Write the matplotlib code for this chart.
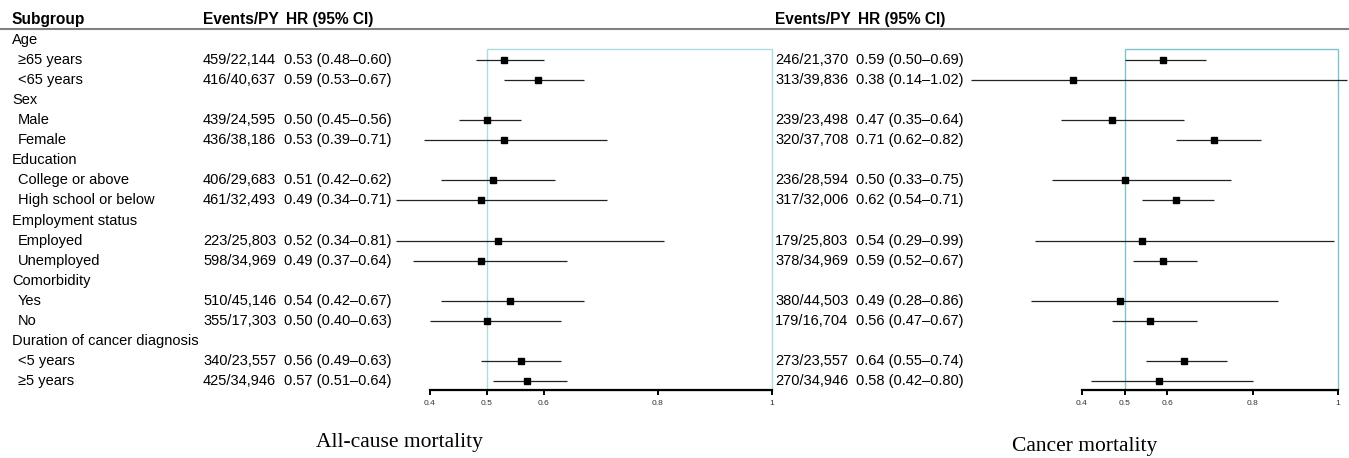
import matplotlib
matplotlib.use("Agg")
import matplotlib.pyplot as plt
import matplotlib.transforms as mtransforms
from matplotlib.patches import Rectangle

plt.rcParams['font.family'] = ['Liberation Sans', 'DejaVu Sans']

# ---------------- data ----------------
categories = ["Age", "Sex", "Education", "Employment status", "Comorbidity",
              "Duration of cancer diagnosis"]
levels = [["≥65 years", "<65 years"], ["Male", "Female"],
          ["College or above", "High school or below"],
          ["Employed", "Unemployed"], ["Yes", "No"], ["<5 years", "≥5 years"]]

allcause_events = ["459/22,144", "416/40,637", "439/24,595", "436/38,186",
                   "406/29,683", "461/32,493", "223/25,803", "598/34,969",
                   "510/45,146", "355/17,303", "340/23,557", "425/34,946"]
allcause_hr = [0.53, 0.59, 0.50, 0.53, 0.51, 0.49, 0.52, 0.49, 0.54, 0.50, 0.56, 0.57]
allcause_lo = [0.48, 0.53, 0.45, 0.39, 0.42, 0.34, 0.34, 0.37, 0.42, 0.40, 0.49, 0.51]
allcause_hi = [0.60, 0.67, 0.56, 0.71, 0.62, 0.71, 0.81, 0.64, 0.67, 0.63, 0.63, 0.64]

cancer_events = ["246/21,370", "313/39,836", "239/23,498", "320/37,708",
                 "236/28,594", "317/32,006", "179/25,803", "378/34,969",
                 "380/44,503", "179/16,704", "273/23,557", "270/34,946"]
cancer_hr = [0.59, 0.38, 0.47, 0.71, 0.50, 0.62, 0.54, 0.59, 0.49, 0.56, 0.64, 0.58]
cancer_lo = [0.50, 0.14, 0.35, 0.62, 0.33, 0.54, 0.29, 0.52, 0.28, 0.47, 0.55, 0.42]
cancer_hi = [0.69, 1.02, 0.64, 0.82, 0.75, 0.71, 0.99, 0.67, 0.86, 0.67, 0.74, 0.80]

x_ticks = [0.4, 0.5, 0.6, 0.8, 1.0]
x_ticklabels = ["0.4", "0.5", "0.6", "0.8", "1"]
panel_titles = ["All-cause mortality", "Cancer mortality"]

# ---------------- layout ----------------
W, H = 1349, 458
fig = plt.figure(figsize=(W / 100, H / 100), dpi=100)

ROW0, STEP = 40.0, 20.06          # pixel y of first row, row spacing
def prow(px):                      # pixel y -> row coordinate
    return (px - ROW0) / STEP

# build row index lists
cat_rows, lvl_rows, lvl_labels = [], [], []
r = 0
for c, lv in zip(categories, levels):
    cat_rows.append(r)
    r += 1
    for l in lv:
        lvl_rows.append(r)
        lvl_labels.append(l)
        r += 1

# text axes spanning the whole figure (x in pixels, y in row units)
axt = fig.add_axes([0, 0, 1, 1], zorder=0)
axt.set_xlim(0, W)
axt.set_ylim(prow(H), prow(0))
axt.axis("off")

FS = 10.5
HFS = 11.2
axt.text(11, -1, "Subgroup", fontsize=HFS, fontweight="bold", va="center")
for xe, xh in [(203, 286), (775, 858)]:
    axt.text(xe, -1, "Events/PY", fontsize=HFS, fontweight="bold", va="center")
    axt.text(xh, -1, "HR (95% CI)", fontsize=HFS, fontweight="bold", va="center")
axt.plot([0, W], [prow(29), prow(29)], color="#808080", lw=1.5)

for c, rr in zip(categories, cat_rows):
    axt.text(12, rr, c, fontsize=FS, va="center")
for l, rr in zip(lvl_labels, lvl_rows):
    axt.text(18, rr, l, fontsize=FS, va="center")

def fmt(h, lo, hi):
    return f"{h:.2f} ({lo:.2f}\u2013{hi:.2f})"

for ev, hr, lo, hi, xe, xh in [
        (allcause_events, allcause_hr, allcause_lo, allcause_hi, 203, 284),
        (cancer_events, cancer_hr, cancer_lo, cancer_hi, 775, 856)]:
    for e, h, a, b, rr in zip(ev, hr, lo, hi, lvl_rows):
        axt.text(xe, rr, e, fontsize=FS, va="center")
        axt.text(xh, rr, fmt(h, a, b), fontsize=FS, va="center")

# forest axes
TOP, BOT = 49, 390
panels = [
    (430, 772, allcause_hr, allcause_lo, allcause_hi, "#aedcdd", 399, 442, panel_titles[0]),
    (1082, 1338, cancer_hr, cancer_lo, cancer_hi, "#7cc6cb", 1085, 446, panel_titles[1]),
]
for x0, x1, hr, lo, hi, boxc, tx, ty, title in panels:
    ax = fig.add_axes([x0 / W, 1 - BOT / H, (x1 - x0) / W, (BOT - TOP) / H], zorder=2)
    ax.patch.set_alpha(0)
    ax.set_xlim(0.4, 1.0)
    ax.set_ylim(prow(BOT), prow(TOP))
    for s in ["left", "right", "top"]:
        ax.spines[s].set_visible(False)
    ax.spines["bottom"].set_linewidth(1.6)
    ax.set_yticks([])
    ax.set_xticks(x_ticks)
    ax.set_xticklabels(x_ticklabels, fontsize=6, color="#333333")
    ax.tick_params(axis="x", length=3.5, width=1.4, pad=4)
    trans = mtransforms.blended_transform_factory(ax.transData, ax.transAxes)
    ax.add_patch(Rectangle((0.5, 0), 0.5, 1, transform=trans, fill=False,
                           edgecolor=boxc, lw=1.0, clip_on=False, zorder=1))
    ax.hlines(lvl_rows, lo, hi, color="#222222", lw=0.9, clip_on=False, zorder=3)
    ax.plot(hr, lvl_rows, "s", color="black", markersize=4.3, clip_on=False, zorder=4)
    fig.text(tx / W, 1 - ty / H, title, family="Liberation Serif",
             fontsize=15.5, ha="center", va="center")

fig.savefig("out.png", dpi=100)
